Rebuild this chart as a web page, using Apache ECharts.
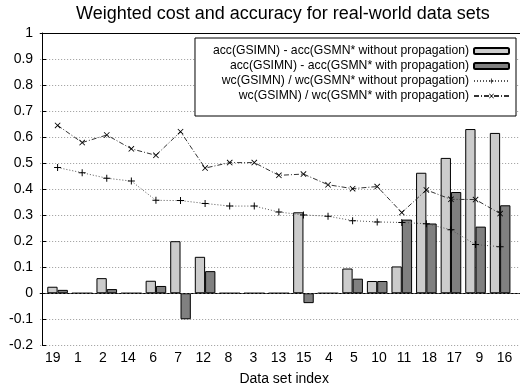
<!DOCTYPE html>
<html>
<head>
<meta charset="utf-8">
<script src="https://cdn.jsdelivr.net/npm/echarts@6/dist/echarts.min.js"></script>
<style>
  html, body { margin: 0; padding: 0; background: #fff; }
  #chart { width: 520px; height: 386px; }
</style>
</head>
<body>
<div id="chart"></div>
<script>
// Data set indices, in plotted order
var dataSets = ['19', '1', '2', '14', '6', '7', '12', '8', '3', '13', '15', '4', '5', '10', '11', '18', '17', '9', '16'];

// acc(GSIMN) - acc(GSMN*) differences
var accNoProp = [0.025, 0, 0.058, 0, 0.048, 0.200, 0.140, 0, 0, 0, 0.311, 0, 0.095, 0.047, 0.103, 0.463, 0.520, 0.631, 0.616];
var accProp   = [0.013, 0, 0.016, 0, 0.028, -0.100, 0.085, 0, 0, 0, -0.038, 0, 0.056, 0.047, 0.283, 0.268, 0.389, 0.256, 0.338];

// weighted cost ratios
var wcNoProp = [0.483, 0.463, 0.442, 0.431, 0.357, 0.356, 0.345, 0.335, 0.335, 0.312, 0.301, 0.296, 0.279, 0.274, 0.272, 0.267, 0.244, 0.187, 0.179];
var wcProp   = [0.645, 0.579, 0.608, 0.555, 0.530, 0.621, 0.481, 0.502, 0.502, 0.453, 0.458, 0.417, 0.402, 0.410, 0.310, 0.397, 0.361, 0.360, 0.306];

// y axis range and step
var yMin = -0.2, yMax = 1, yStep = 0.1;

var names = [
  'acc(GSIMN) - acc(GSMN* without propagation)',
  'acc(GSIMN) - acc(GSMN* with propagation)',
  'wc(GSIMN) / wc(GSMN* without propagation)',
  'wc(GSIMN) / wc(GSMN* with propagation)'
];

// one spare slot on the right so the frame runs past the visible edge
var axisCats = dataSets.concat(['']);

var FONT = 'Liberation Sans, Arial, Helvetica, sans-serif';
var plusPath = 'path://M-1,-0.14H1V0.14H-1Z M-0.14,-1H0.14V1H-0.14Z';
var crossPath = 'path://M-1,-0.8L-0.8,-1L1,0.8L0.8,1Z M0.8,-1L1,-0.8L-0.8,1L-1,0.8Z';

var chart = echarts.init(document.getElementById('chart'), null, { renderer: 'canvas' });

var option = {
  animation: false,
  backgroundColor: '#fff',
  textStyle: { fontFamily: FONT },
  title: {
    text: 'Weighted cost and accuracy for real-world data sets',
    left: 71, top: 0,
    textStyle: { fontSize: 18, fontWeight: 'normal', color: '#000', fontFamily: FONT }
  },
  legend: {
    orient: 'vertical',
    align: 'right',
    right: 4, top: 38,
    padding: [6, 6, 13, 18],
    itemWidth: 35, itemHeight: 6, itemGap: 1,
    backgroundColor: '#fff',
    borderColor: '#000', borderWidth: 1,
    borderRadius: 0,
    textStyle: { fontSize: 12.2, color: '#000', fontFamily: FONT, lineHeight: 14 },
    data: names
  },
  grid: [
    // frame and axes
    { left: 40.15, right: -22.15, top: 33, bottom: 40.7, containLabel: false, outerBoundsMode: 'none' },
    // marks, offset half a bar to the right
    { left: 45.3, right: -17, top: 33, bottom: 40.7, containLabel: false, outerBoundsMode: 'none' }
  ],
  xAxis: [
    {
      type: 'category', gridIndex: 0, position: 'bottom', data: axisCats,
      axisLine: { lineStyle: { color: '#000', width: 1 } },
      axisTick: { inside: true, alignWithLabel: true, length: 4, lineStyle: { color: '#000' } },
      axisLabel: { interval: 0, margin: 6, fontSize: 14, color: '#000', fontFamily: FONT },
      name: 'Data set index', nameLocation: 'middle', nameGap: 27,
      nameTextStyle: { fontSize: 14, color: '#000', fontFamily: FONT, padding: [0, 14, 0, 0] },
      splitLine: { show: false }
    },
    {
      type: 'category', gridIndex: 0, position: 'top', data: axisCats,
      axisLine: { lineStyle: { color: '#000', width: 1 } },
      axisTick: { inside: true, alignWithLabel: true, length: 4, lineStyle: { color: '#000' } },
      axisLabel: { show: false },
      splitLine: { show: false }
    },
    {
      type: 'category', gridIndex: 1, data: axisCats, show: false
    }
  ],
  yAxis: [
    {
      type: 'value', gridIndex: 0, min: yMin, max: yMax, interval: yStep, offset: -2,
      axisLine: { show: true, lineStyle: { color: '#000', width: 1 } },
      axisTick: { show: true, inside: true, length: 4, lineStyle: { color: '#000' } },
      axisLabel: { margin: 9, fontSize: 14, color: '#000', fontFamily: FONT,
        formatter: function (v) { return String(Math.round(v * 10) / 10); } },
      splitLine: { show: true, lineStyle: { color: '#999', width: 1, type: [1, 2] } }
    },
    {
      type: 'value', gridIndex: 1, min: yMin, max: yMax, interval: yStep, show: false
    }
  ],
  series: [
    {
      name: names[0], type: 'bar', xAxisIndex: 2, yAxisIndex: 1,
      data: accNoProp, barWidth: 10.3, barGap: '0%',
      itemStyle: { color: '#cccccc', borderColor: '#000', borderWidth: 1 },
      markLine: {
        silent: true, symbol: 'none', label: { show: false },
        lineStyle: { color: '#555', width: 1, type: [2, 2] },
        data: [{ yAxis: 0 }]
      }
    },
    {
      name: names[1], type: 'bar', xAxisIndex: 2, yAxisIndex: 1,
      data: accProp, barWidth: 10.3, barGap: '0%',
      itemStyle: { color: '#808080', borderColor: '#000', borderWidth: 1 }
    },
    {
      name: names[2], type: 'line', xAxisIndex: 2, yAxisIndex: 1,
      data: wcNoProp, symbol: plusPath, symbolSize: 7, showAllSymbol: true,
      lineStyle: { color: '#555', width: 1, type: [1, 2] },
      itemStyle: { color: '#000' }
    },
    {
      name: names[3], type: 'line', xAxisIndex: 2, yAxisIndex: 1,
      data: wcProp, symbol: crossPath, symbolSize: 6, showAllSymbol: true,
      lineStyle: { color: '#333', width: 1, type: [5, 2, 1, 2] },
      itemStyle: { color: '#000' }
    }
  ]
};

chart.setOption(option);
</script>
</body>
</html>
